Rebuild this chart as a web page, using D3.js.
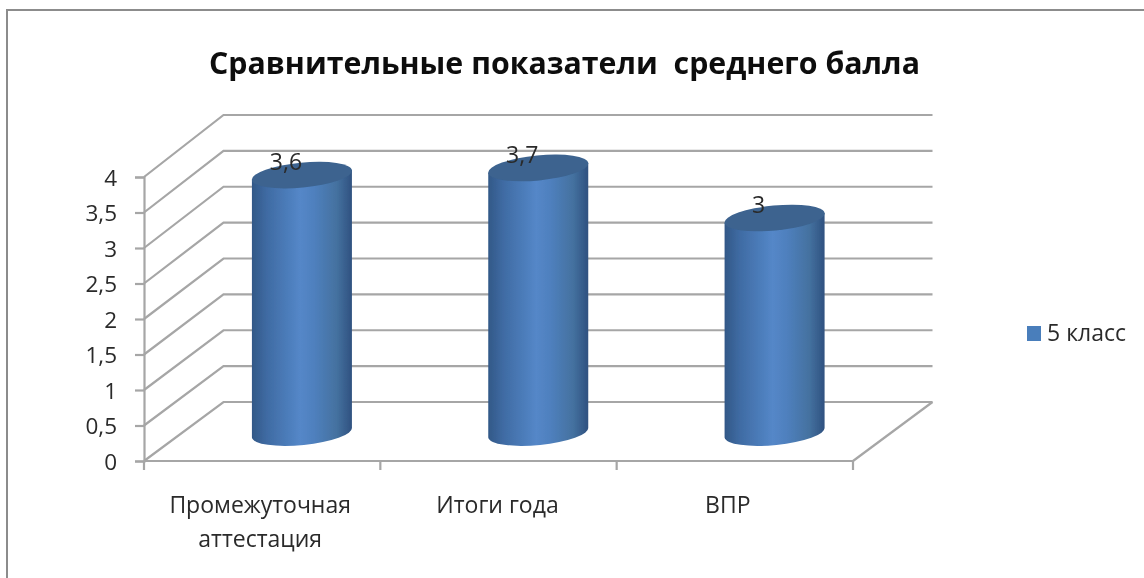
<!DOCTYPE html>
<html><head><meta charset="utf-8">
<script src="https://cdn.jsdelivr.net/npm/d3@7"></script>
<style>html,body{margin:0;padding:0;background:#fff;overflow:hidden}svg{display:block}</style>
</head><body>
<script>
const titleText = "Сравнительные показатели  среднего балла";
const categories = ["Промежуточная аттестация", "Итоги года", "ВПР"];
const categoryLines = [["Промежуточная", "аттестация"], ["Итоги года"], ["ВПР"]];
const values = [3.6, 3.7, 3];
const valueLabels = ["3,6", "3,7", "3"];
const yTicks = [0, 0.5, 1, 1.5, 2, 2.5, 3, 3.5, 4];
const seriesName = "5 класс";

const W = 1144, H = 578;
const FONT = "'Open Sans','Noto Sans',sans-serif";
const GRID = "#a6a6a6", TEXT = "#2a2a2a";
const depthX = 79.5;
const labelNudge = [-2, -1, -7];

const svg = d3.select("body").append("svg").attr("width", W).attr("height", H);
const defs = svg.append("defs");
const soft = defs.append("filter").attr("id", "soft").attr("x", "-5%").attr("y", "-5%").attr("width", "110%").attr("height", "110%");
soft.append("feGaussianBlur").attr("stdDeviation", 0.5);
const grad = defs.append("linearGradient").attr("id", "cyl");
[[0, "#325887"], [0.15, "#3f6ba3"], [0.48, "#5487c8"], [0.62, "#4f80be"], [0.85, "#44719f"], [1, "#2f5180"]]
  .forEach(([o, c]) => grad.append("stop").attr("offset", o).attr("stop-color", c));

const root = svg.append("g").attr("filter", "url(#soft)");

// outer frame (top and left only are in view)
root.append("path").attr("d", `M7,${H}V10H${W}`).attr("fill", "none").attr("stroke", "#8c8c8c").attr("stroke-width", 2);

const x = d3.scaleBand().domain(categories).range([144, 853]);
const yFront = d3.scaleLinear().domain([0, 4]).range([461, 177]);
const yBack = d3.scaleLinear().domain([0, 4]).range([402, 115]);
const yMid = d3.scaleLinear().domain([0, 4]).range([432.5, 146.5]);

// walls and floor
const grid = root.append("g").attr("fill", "none").attr("stroke", GRID).attr("stroke-width", 2.2);
grid.selectAll("path.g").data(yTicks).join("path").attr("class", "g")
  .attr("d", v => `M${x.range()[0]},${yFront(v)}L${x.range()[0] + depthX},${yBack(v)}H${x.range()[1] + depthX}`);
grid.append("path").attr("d", `M${x.range()[1]},${yFront(0)}L${x.range()[1] + depthX},${yBack(0)}`);

// y axis
const yAxis = root.append("g").attr("transform", "translate(144,0)")
  .call(d3.axisLeft(yFront).tickValues(yTicks).tickSize(9).tickPadding(18).tickFormat(v => String(v).replace(".", ",")));
yAxis.select(".domain").attr("stroke", GRID).attr("stroke-width", 2.2);
yAxis.selectAll(".tick line").attr("stroke", GRID).attr("stroke-width", 2.2);
yAxis.selectAll("text").attr("font-family", FONT).attr("font-size", 22.5).attr("fill", TEXT).attr("dy", "0.36em");

// x axis
const edges = categories.map(c => x(c)).concat(x.range()[1]);
const xAxis = root.append("g");
xAxis.append("line").attr("x1", x.range()[0]).attr("x2", x.range()[1]).attr("y1", yFront(0)).attr("y2", yFront(0)).attr("stroke", GRID).attr("stroke-width", 2.2);
xAxis.selectAll("line.t").data(edges).join("line").attr("class", "t")
  .attr("x1", d => d).attr("x2", d => d).attr("y1", yFront(0)).attr("y2", yFront(0) + 9)
  .attr("stroke", GRID).attr("stroke-width", 2.2);
const catG = root.append("g").attr("font-family", FONT).attr("font-size", 23).attr("fill", TEXT).attr("text-anchor", "middle");
categories.forEach((c, i) => {
  categoryLines[i].forEach((ln, j) => {
    catG.append("text").attr("x", x(c) + x.bandwidth() / 2 + labelNudge[i]).attr("y", 513 + j * 34).text(ln);
  });
});

// cylinders
const rx = 50, ry = 12.5, rot = -5.5, tip = 5;
const cyl = root.append("g");
categories.forEach((c, i) => {
  const cx = x(c) + x.bandwidth() / 2 + depthX / 2;
  const y0 = yMid(0), y1 = yMid(values[i]);
  const g = cyl.append("g");
  g.append("path").attr("fill", "url(#cyl)")
    .attr("d", `M${cx - rx},${y1 + tip}L${cx - rx},${y0 + tip}A${rx},${ry} ${rot} 0 0 ${cx + rx},${y0 - tip}L${cx + rx},${y1 - tip}Z`);
  g.append("ellipse").attr("transform", `translate(${cx},${y1}) rotate(${rot})`)
    .attr("rx", rx + 0.3).attr("ry", ry).attr("fill", "#3c638f");
  root.append("text").attr("x", cx - 16).attr("y", y1 - 5)
    .attr("font-family", FONT).attr("font-size", 23).attr("fill", TEXT).attr("text-anchor", "middle")
    .text(valueLabels[i]);
});

// title
root.append("text").attr("x", 564.5).attr("y", 74).attr("text-anchor", "middle")
  .attr("font-family", FONT).attr("font-weight", 700).attr("font-size", 30.3).attr("fill", "#111")
  .attr("xml:space", "preserve").style("white-space", "pre").text(titleText);

// legend
root.append("rect").attr("x", 1027).attr("y", 326).attr("width", 14).attr("height", 15).attr("fill", "#4a7ebb");
root.append("text").attr("x", 1047).attr("y", 341).attr("font-family", FONT).attr("font-size", 23).attr("fill", TEXT).text(seriesName);
</script>
</body></html>
